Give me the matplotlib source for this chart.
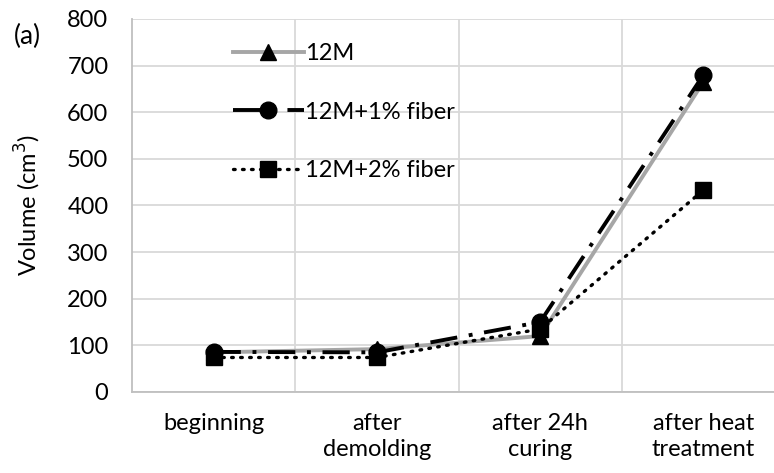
import matplotlib
matplotlib.use("Agg")
import matplotlib.pyplot as plt
from matplotlib.ticker import FixedLocator

plt.rcParams['font.family'] = ['Lato', 'DejaVu Sans']

stages = ['beginning', 'after\ndemolding', 'after 24h\ncuring', 'after heat\ntreatment']
vol_12m = [85, 92, 120, 665]
vol_1fiber = [86, 85, 150, 680]
vol_2fiber = [74, 74, 135, 433]

FS = 17

fig = plt.figure(figsize=(7.74, 4.73), dpi=100)
ax = fig.add_axes([132 / 774, 1 - 392 / 473, (785 - 132) / 774, (392 - 19) / 473])

x = list(range(len(stages)))
ax.plot(x, vol_12m, color='#A6A6A6', lw=2.8, marker='^', ms=12,
        mfc='black', mec='black', label='12M', zorder=3)
ax.plot(x, vol_1fiber, color='black', lw=2.8, dashes=(7, 3, 1, 3), marker='o', ms=12,
        mfc='black', mec='black', label='12M+1% fiber', zorder=4)
ax.plot(x, vol_2fiber, color='black', lw=2.4, dashes=(0.5, 2.2), dash_capstyle='round',
        marker='s', ms=11, mfc='black', mec='black', label='12M+2% fiber', zorder=5)

ax.set_xlim(-0.5, 3.5)
ax.set_ylim(0, 800)
ax.set_yticks(range(0, 801, 100))
ax.set_xticks(x)
ax.set_xticklabels(stages, fontsize=FS, linespacing=1.3)
ax.tick_params(axis='y', labelsize=FS, length=0, pad=17)
ax.tick_params(axis='x', length=0, pad=15)
ax.xaxis.set_minor_locator(FixedLocator([0.5, 1.5, 2.5]))
ax.tick_params(axis='x', which='minor', length=0)

ax.grid(axis='y', color='#D9D9D9', lw=1.3)
ax.grid(axis='x', which='minor', color='#D9D9D9', lw=1.3)
ax.set_axisbelow(True)
for s in ['top', 'right']:
    ax.spines[s].set_visible(False)
for s in ['left', 'bottom']:
    ax.spines[s].set_color('#BFBFBF')
    ax.spines[s].set_linewidth(1.3)

ax.set_ylabel('Volume (cm$^3$)', fontsize=FS)
ax.yaxis.set_label_coords(-(132 - 43) / 653, 0.5)
fig.text(14 / 774, 1 - 36 / 473, '(a)', fontsize=19, va='center')

ax.legend(loc='upper left', bbox_to_anchor=((221 - 132) / 653, 1 - 12 / 373),
          frameon=False, fontsize=FS, handlelength=3.0, handletextpad=0.05,
          labelspacing=1.6, borderpad=0)

fig.savefig('out.png', dpi=100)
